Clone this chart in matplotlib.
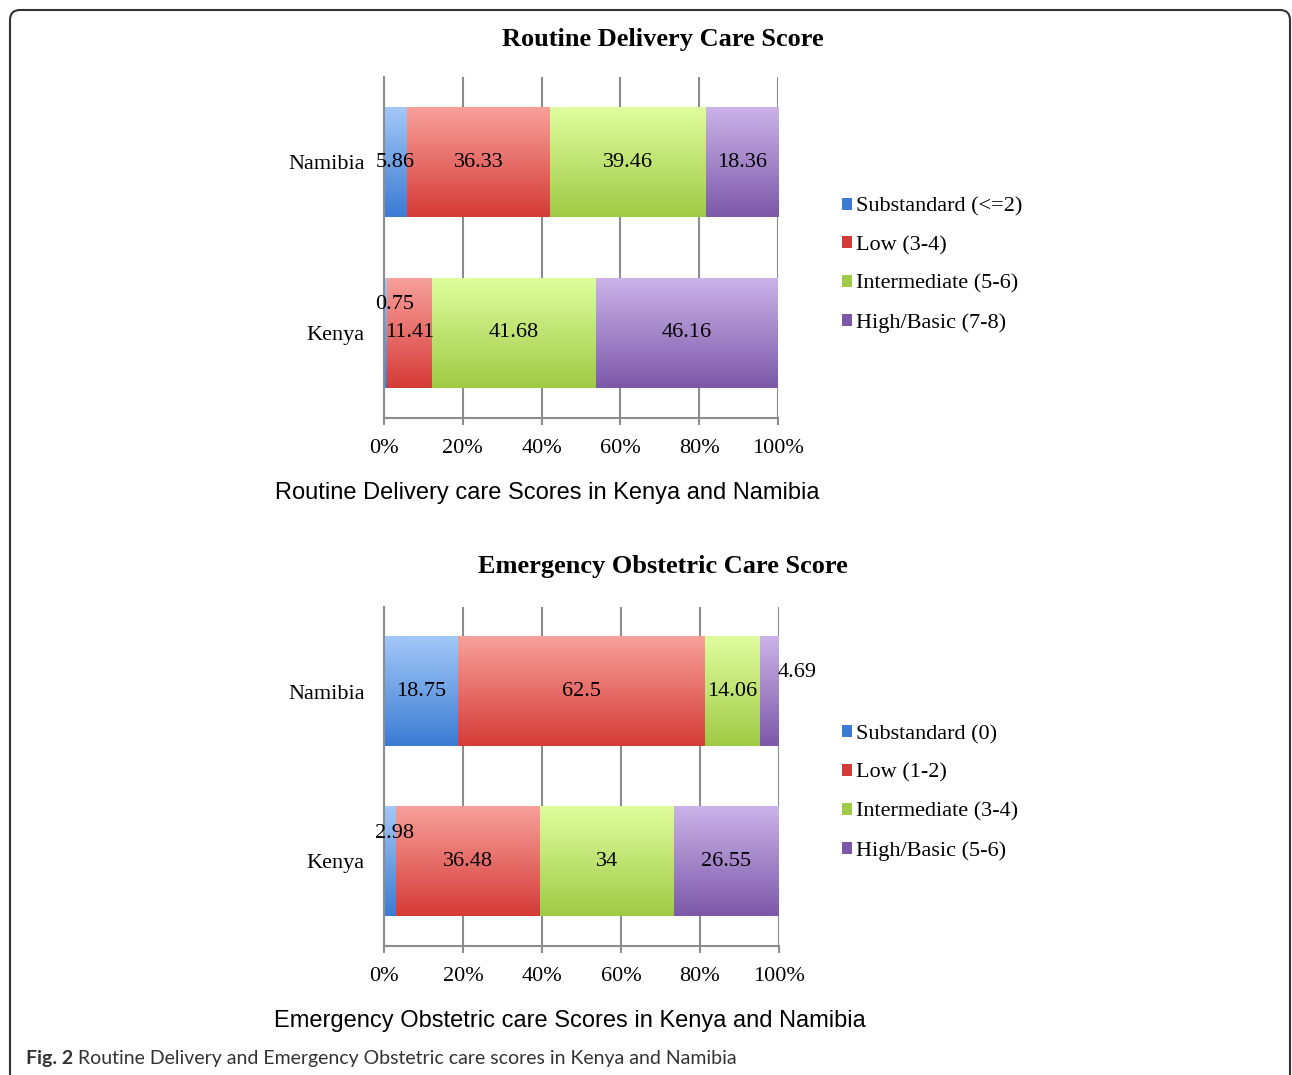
"""Routine delivery / emergency obstetric care scores, Kenya vs Namibia.

Two stacked 100% horizontal bar charts with Excel-style vertical gradients,
reproduced with a plain matplotlib layout.
"""
import matplotlib
matplotlib.use("Agg")
import matplotlib.pyplot as plt
import numpy as np
from matplotlib.colors import LinearSegmentedColormap
from matplotlib.patches import FancyBboxPatch, Patch

# ---- data -------------------------------------------------------------
categories = ["Kenya", "Namibia"]

routine_labels = ["Substandard (<=2)", "Low (3-4)", "Intermediate (5-6)", "High/Basic (7-8)"]
routine_kenya = [0.75, 11.41, 41.68, 46.16]
routine_namibia = [5.86, 36.33, 39.46, 18.36]

emergency_labels = ["Substandard (0)", "Low (1-2)", "Intermediate (3-4)", "High/Basic (5-6)"]
emergency_kenya = [2.98, 36.48, 34, 26.55]
emergency_namibia = [18.75, 62.5, 14.06, 4.69]

xticks = [0, 20, 40, 60, 80, 100]

# (top colour, bottom colour) per segment: blue, red, green, purple
shades = [("#a3c8f7", "#3b7bd4"),
          ("#f8a09b", "#d53b37"),
          ("#e0fd9f", "#9fca45"),
          ("#cbb3e8", "#7c58a9")]

SERIF = "Liberation Serif"
SANS = "Liberation Sans"
GRID = "#8c8c8c"
FS = 16

# label nudges (points) for the slivers that Excel pushed off-centre
nudges = {
    ("routine", 0, 0): (6.5, 20),
    ("emergency", 0, 0): (3, 20),
    ("emergency", 1, 3): (20, 14),
}


def shade_bars(ax, bars, top, bottom):
    grad = np.linspace(0, 1, 256).reshape(-1, 1)
    cmap = LinearSegmentedColormap.from_list("", [top, bottom])
    for p in bars:
        x0, y0 = p.get_xy()
        ax.imshow(grad, cmap=cmap, aspect="auto", origin="upper",
                  extent=(x0, x0 + p.get_width(), y0, y0 + p.get_height()),
                  clip_path=p, zorder=p.get_zorder(), interpolation="bilinear")


def draw_panel(ax, key, labels, kenya, namibia):
    rows = [kenya, namibia]
    ypos = np.arange(len(categories))
    left = np.zeros(len(categories))
    for j, lab in enumerate(labels):
        vals = np.array([r[j] for r in rows])
        top, bottom = shades[j]
        bars = ax.barh(ypos, vals, left=left, height=0.645, color=bottom,
                       linewidth=0, label=lab, zorder=2)
        shade_bars(ax, bars, top, bottom)
        for i, (b, v) in enumerate(zip(bars, vals)):
            dx, dy = nudges.get((key, i, j), (0, 0))
            ax.annotate(f"{v:g}", (left[i] + v / 2, ypos[i]),
                        xytext=(dx, dy), textcoords="offset points",
                        ha="center", va="center", fontsize=FS,
                        family=SERIF, zorder=5)
        left += vals

    ax.set_xlim(0, 100)
    ax.set_ylim(-0.5, 1.5)
    ax.set_xticks(xticks)
    ax.set_xticklabels([f"{t}%" for t in xticks], family=SERIF, fontsize=FS)
    ax.set_yticks(ypos)
    ax.set_yticklabels(categories, family=SERIF, fontsize=FS)
    ax.tick_params(axis="y", length=0, pad=14)
    ax.tick_params(axis="x", length=5, width=1.5, color=GRID, pad=10)
    ax.grid(axis="x", color=GRID, linewidth=1.5)
    ax.set_axisbelow(True)
    for s in ("top", "right"):
        ax.spines[s].set_visible(False)
    for s in ("left", "bottom"):
        ax.spines[s].set_color(GRID)
        ax.spines[s].set_linewidth(1.5)


fig = plt.figure(figsize=(12.92, 10.75), dpi=100)

ax1 = fig.add_axes([0.2972, 0.6112, 0.3050, 0.3172])
ax2 = fig.add_axes([0.2972, 0.1200, 0.3057, 0.3153])
draw_panel(ax1, "routine", routine_labels, routine_kenya, routine_namibia)
draw_panel(ax2, "emergency", emergency_labels, emergency_kenya, emergency_namibia)

for ax, labels, ycen in ((ax1, routine_labels, 0.7535), (ax2, emergency_labels, 0.2625)):
    handles = [Patch(facecolor=shades[j][1], edgecolor="none", label=l)
               for j, l in enumerate(labels)]
    ax.legend(handles=handles, loc="center left", bbox_to_anchor=(0.6517, ycen),
              bbox_transform=fig.transFigure, frameon=False, borderpad=0,
              borderaxespad=0, handlelength=0.45, handleheight=0.45,
              handletextpad=0.2, labelspacing=0.87,
              prop={"family": SERIF, "size": FS})

fig.text(0.513, 0.9628, "Routine Delivery Care Score", ha="center", va="center",
         family=SERIF, fontsize=19, fontweight="bold")
fig.text(0.513, 0.4726, "Emergency Obstetric Care Score", ha="center", va="center",
         family=SERIF, fontsize=19, fontweight="bold")
fig.text(0.4234, 0.5414, "Routine Delivery care Scores in Kenya and Namibia",
         ha="center", va="center", family=SANS, fontsize=17)
fig.text(0.4412, 0.0505, "Emergency Obstetric care Scores in Kenya and Namibia",
         ha="center", va="center", family=SANS, fontsize=17)

cap = fig.text(0.0201, 0.0158, "Fig. 2", ha="left", va="center",
               family="Lato", fontsize=14, fontweight="bold", color="#333333")
plt.annotate(" Routine Delivery and Emergency Obstetric care scores in Kenya and Namibia",
             xy=(1, 0.5), xycoords=cap, ha="left", va="center",
             family="Lato", fontsize=14, color="#333333", annotation_clip=False)

# rounded frame around the whole figure (inches)
frame = FancyBboxPatch((0.10, -0.3), 12.80, 10.95,
                       boxstyle="round,pad=0,rounding_size=0.1",
                       transform=fig.dpi_scale_trans, facecolor="none",
                       edgecolor="#333333", linewidth=1.5, clip_on=False)
fig.add_artist(frame)

fig.savefig("out.png", dpi=100)
